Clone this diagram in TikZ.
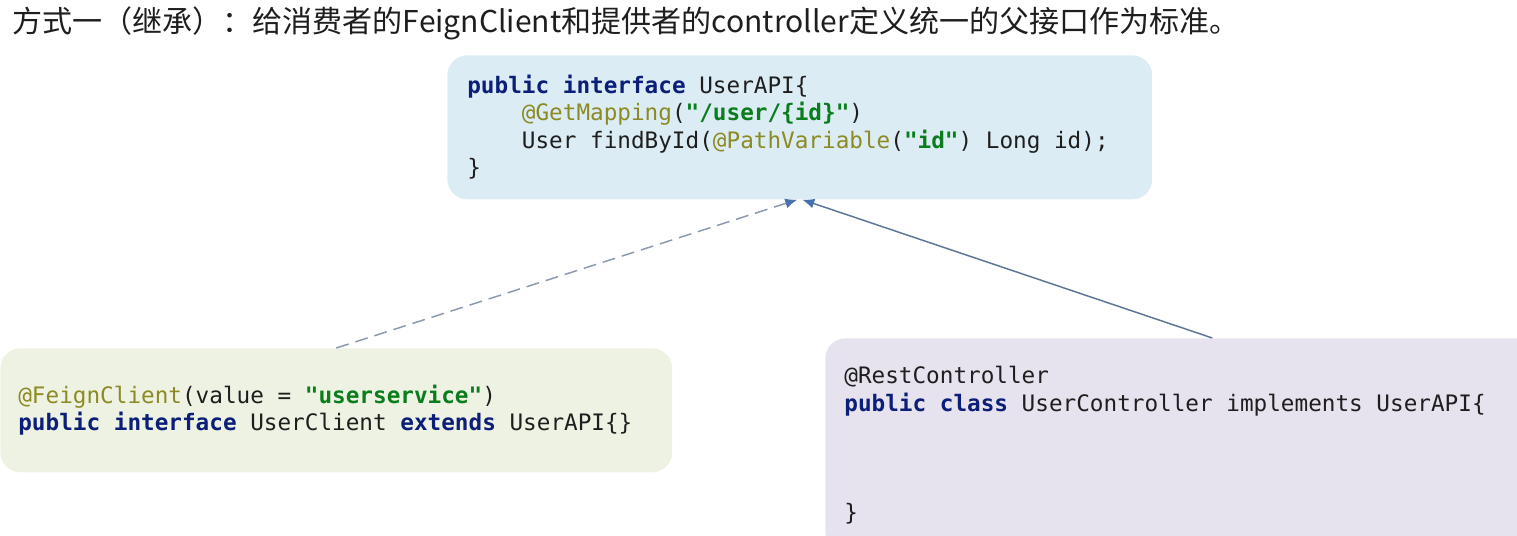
\documentclass[tikz,border=0pt]{standalone}
\usepackage{fontspec}
\setmainfont{Noto Sans CJK SC}
\setmonofont{DejaVu Sans Mono}
\usetikzlibrary{arrows.meta}
\definecolor{kwblue}{HTML}{0B1E78}
\definecolor{annolive}{HTML}{8C8A22}
\definecolor{strgreen}{HTML}{0A7D1C}
\definecolor{codeblack}{HTML}{1E1E1E}
\definecolor{apifill}{HTML}{DCECF4}
\definecolor{clientfill}{HTML}{EEF2E3}
\definecolor{ctrlfill}{HTML}{E6E2EE}
\definecolor{dashgray}{HTML}{8C9AAF}
\definecolor{linkblue}{HTML}{5F7797}
\definecolor{tipblue}{HTML}{4770AC}
\newcommand{\kwd}[1]{\textcolor{kwblue}{\textbf{#1}}}
\newcommand{\annot}[1]{\textcolor{annolive}{#1}}
\newcommand{\strg}[1]{\textcolor{strgreen}{\textbf{#1}}}
\newcommand{\ind}{\phantom{xxxx}}
\newcommand{\codefont}{\ttfamily\fontsize{12.9}{15.6}\selectfont}
\newcommand{\codesp}{\spaceskip=0.602em\xspaceskip=0.602em\relax}
\tikzset{
  codebox/.style={anchor=north west, rounded corners=0.4cm, align=left, text=codeblack,
    font=\codefont, execute at begin node=\codesp},
  link/.style={line width=0.03cm, -{Latex[length=0.24cm,width=0.2cm,color=tipblue,fill=tipblue]}}
}
\begin{document}
\begin{tikzpicture}[x=0.02cm,y=-0.02cm]
  \useasboundingbox (0,0) rectangle (1517,536);
  \clip (0,0) rectangle (1517,536);
  \node[anchor=west, inner sep=0pt, text=codeblack, font=\fontsize{17.1}{20}\selectfont] (title) at (12,23)
    {方式一（继承）：给消费者的FeignClient和提供者的controller定义统一的父接口作为标准。};
  % parent interface
  \node[codebox, fill=apifill, inner xsep=0.4cm, text width=13.3cm, minimum height=2.88cm] (api) at (447,55)
    {\codesp\kwd{public} \kwd{interface} UserAPI\{\\
     \ind\annot{@GetMapping}(\strg{"/user/\{id\}"})\\
     \ind User findById(\annot{@PathVariable}(\strg{"id"}) Long id);\\
     \}};
  % consumer
  \node[codebox, fill=clientfill, inner xsep=0.36cm, text width=12.72cm, minimum height=2.48cm] (client) at (0,348)
    {\codesp\annot{@FeignClient}(value = \strg{"userservice"})\\
     \kwd{public} \kwd{interface} UserClient \kwd{extends} UserAPI\{\}};
  % provider
  \node[codebox, fill=ctrlfill, inner xsep=0.38cm, text width=14.72cm, minimum height=4.28cm] (ctrl) at (825,338)
    {\codesp@RestController\\
     \kwd{public} \kwd{class} UserController implements UserAPI\{\\
     ~\\ ~\\ ~\\
     \}};
  \draw[link, dashgray, dash pattern=on 0.26cm off 0.14cm] (client.north) -- ([xshift=-0.05cm]api.south);
  \draw[link, linkblue] (ctrl.north) -- ([xshift=0.05cm]api.south);
\end{tikzpicture}
\end{document}
